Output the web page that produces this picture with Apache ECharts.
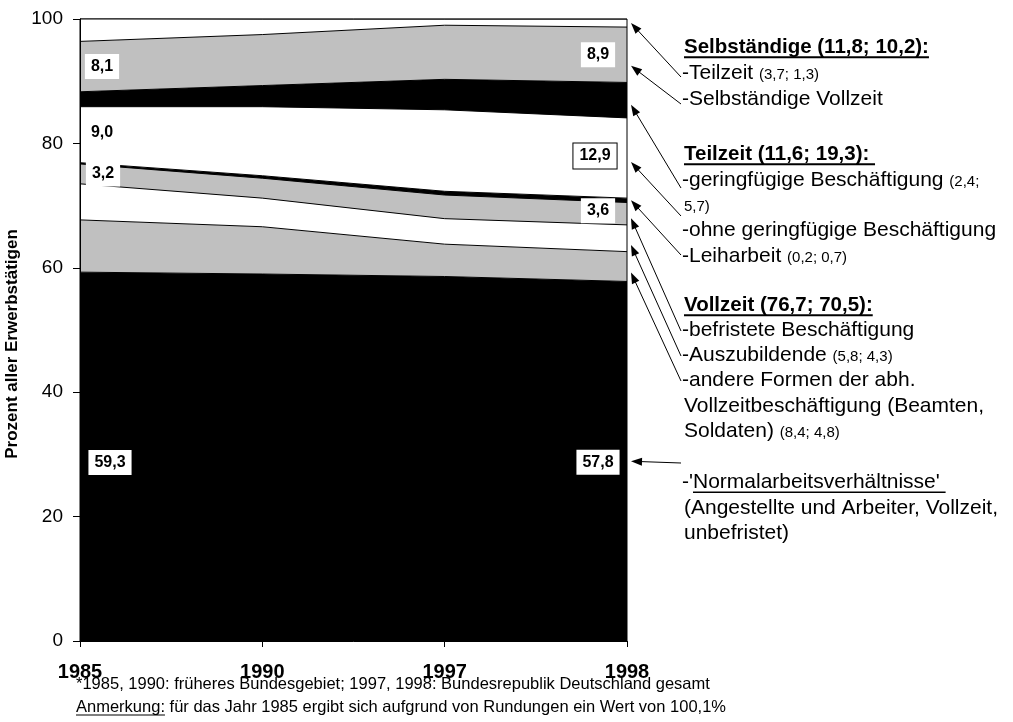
<!DOCTYPE html>
<html>
<head>
<meta charset="utf-8">
<script src="https://cdn.jsdelivr.net/npm/echarts@6.0.0/dist/echarts.min.js"></script>
<style>
  html, body { margin: 0; padding: 0; background: #fff; }
  #chart { width: 1013px; height: 722px; }
</style>
</head>
<body>
<div id="chart"></div>
<script>
// Anteile an allen Erwerbstätigen in Prozent (von unten nach oben gestapelt)
var years = ['1985', '1990', '1997', '1998'];
var normal = [59.3, 59.0, 58.6, 57.8];
var andereVollzeit = [8.4, 7.6, 5.2, 4.8];
var azubi = [5.8, 4.6, 4.1, 4.3];
var befristet = [3.2, 3.2, 3.8, 3.6];
var leiharbeit = [0.2, 0.4, 0.6, 0.7];
var ohneGering = [9.0, 11.1, 13.1, 12.9];
var gering = [2.4, 3.4, 4.9, 5.7];
var selbstVoll = [8.1, 8.2, 8.7, 8.9];
var selbstTeil = [3.7, 2.5, 1.0, 1.3];
var yTicks = [0, 20, 40, 60, 80, 100];

var fam = '"Liberation Sans", Arial, Helvetica, sans-serif';
var BLACK = '#000000', GRAY = '#c0c0c0', WHITE = '#ffffff';

var layers = [
  { name: 'Normalarbeitsverhältnisse', data: normal, color: BLACK },
  { name: 'andere Formen', data: andereVollzeit, color: GRAY },
  { name: 'Auszubildende', data: azubi, color: WHITE },
  { name: 'befristete Beschäftigung', data: befristet, color: GRAY },
  { name: 'Leiharbeit', data: leiharbeit, color: BLACK },
  { name: 'ohne geringfügige Beschäftigung', data: ohneGering, color: WHITE },
  { name: 'geringfügige Beschäftigung', data: gering, color: BLACK },
  { name: 'Selbständige Vollzeit', data: selbstVoll, color: GRAY },
  { name: 'Selbständige Teilzeit', data: selbstTeil, color: WHITE }
];

var dom = document.getElementById('chart');
var myChart = echarts.init(dom, null, { renderer: 'canvas' });

var option = {
  animation: false,
  backgroundColor: '#fff',
  grid: {
    left: 80, right: 386, top: 19, bottom: 81,
    outerBoundsMode: 'none',
    containLabel: false,
    show: true, borderColor: '#000', borderWidth: 1,
    backgroundColor: 'transparent', z: 10
  },
  xAxis: {
    type: 'category',
    data: years,
    boundaryGap: false,
    z: 10,
    axisLine: { lineStyle: { color: '#000', width: 1 } },
    axisTick: { show: true, length: 6, lineStyle: { color: '#000' } },
    axisLabel: {
      color: '#000', fontFamily: fam, fontSize: 20, fontWeight: 'bold', margin: 21
    },
    splitLine: { show: false }
  },
  yAxis: {
    type: 'value',
    min: yTicks[0],
    max: yTicks[yTicks.length - 1],
    interval: 20,
    z: 10,
    name: 'Prozent aller Erwerbstätigen',
    nameLocation: 'middle',
    nameGap: 54,
    nameTextStyle: {
      color: '#000', fontFamily: fam, fontSize: 17, fontWeight: 'bold',
      padding: [0, 28, 0, 0]
    },
    axisLine: { show: true, lineStyle: { color: '#000', width: 1 } },
    axisTick: { show: true, length: 7, lineStyle: { color: '#000' } },
    axisLabel: { color: '#000', fontFamily: fam, fontSize: 19, margin: 17 },
    splitLine: { show: false }
  },
  series: layers.map(function (l) {
    return {
      type: 'line',
      name: l.name,
      stack: 'gesamt',
      data: l.data,
      symbol: 'none',
      smooth: false,
      clip: true,
      lineStyle: { color: '#000', width: 1 },
      itemStyle: { color: l.color },
      areaStyle: { color: l.color, opacity: 1 }
    };
  })
};

myChart.setOption(option);

// ---- Beschriftungen ----
function px(i, v) {
  return myChart.convertToPixel({ gridIndex: 0 }, [years[i], v]);
}
function band(k, i) {
  var lo = 0;
  for (var j = 0; j < k; j++) lo += layers[j].data[i];
  return [lo, lo + layers[k].data[i]];
}
function fmt(v) { return v.toFixed(1).replace('.', ','); }

var graphics = [];

// Wertelabels in den Flächen
var valueLabels = [
  { layer: 7, i: 0, dx: 22, dy: 0, frame: false },
  { layer: 5, i: 0, dx: 22, dy: -2, frame: false },
  { layer: 3, i: 0, dx: 23, dy: 0, frame: false },
  { layer: 0, i: 0, dx: 30, dy: 6, frame: false },
  { layer: 7, i: 3, dx: -29, dy: 0, frame: false },
  { layer: 5, i: 3, dx: -32, dy: -2, frame: true },
  { layer: 3, i: 3, dx: -29, dy: -3, frame: false },
  { layer: 0, i: 3, dx: -29, dy: 1, frame: false }
];
valueLabels.forEach(function (lb) {
  var b = band(lb.layer, lb.i);
  var p = px(lb.i, (b[0] + b[1]) / 2);
  graphics.push({
    type: 'text', z: 100,
    style: {
      text: fmt(layers[lb.layer].data[lb.i]),
      x: p[0] + lb.dx, y: p[1] + lb.dy,
      align: 'center', verticalAlign: 'middle',
      font: 'bold 16px ' + fam, fill: '#000',
      backgroundColor: '#fff',
      padding: [5, 6, 4, 6],
      borderColor: lb.frame ? '#000' : null,
      borderWidth: lb.frame ? 1 : 0
    }
  });
});

// Legende rechts (Text)
var fonts = {
  head: 'bold 20.5px ' + fam,
  norm: '21px ' + fam,
  normU: '21px ' + fam,
  small: '15px ' + fam
};
var sizes = { head: 20.5, norm: 21, normU: 21, small: 15 };
var noteLines = [
  [['Selbständige (11,8; 10,2):', 'head']],
  [['-Teilzeit ', 'norm'], ['(3,7; 1,3)', 'small']],
  [['-Selbständige Vollzeit', 'norm']],
  [['Teilzeit (11,6; 19,3): ', 'head']],
  [['-geringfügige Beschäftigung ', 'norm'], ['(2,4;', 'small']],
  [['5,7)', 'small']],
  [['-ohne geringfügige Beschäftigung', 'norm']],
  [['-Leiharbeit ', 'norm'], ['(0,2; 0,7)', 'small']],
  [['Vollzeit (76,7; 70,5):', 'head']],
  [['-befristete Beschäftigung', 'norm']],
  [['-Auszubildende ', 'norm'], ['(5,8; 4,3)', 'small']],
  [['-andere Formen der abh.', 'norm']],
  [['Vollzeitbeschäftigung (Beamten,', 'norm']],
  [['Soldaten) ', 'norm'], ['(8,4; 4,8)', 'small']],
  [["-'", 'norm'], ["Normalarbeitsverhältnisse' ", 'normU']],
  [['(Angestellte und Arbeiter, Vollzeit,', 'norm']],
  [['unbefristet)', 'norm']]
];
// Zeilenmitten (px) der Legendenzeilen
var lineCenters = [47, 73, 99, 154, 180, 205, 230, 256, 305, 330, 355, 380, 406, 431, 482, 508, 533];
var dashX = 682, textX = 684;

var ctx = document.createElement('canvas').getContext('2d');
function measure(str, f) { ctx.font = f; return ctx.measureText(str).width; }

noteLines.forEach(function (parts, k) {
  var x = parts[0][0].charAt(0) === '-' ? dashX : textX;
  var baseline = lineCenters[k] + 0.35 * 21;
  parts.forEach(function (part) {
    var kind = part[1];
    var w = measure(part[0], fonts[kind]);
    graphics.push({
      type: 'text', z: 100,
      style: {
        text: part[0], x: x, y: baseline - 0.35 * sizes[kind],
        align: 'left', verticalAlign: 'middle',
        font: fonts[kind], fill: '#000'
      }
    });
    if (kind === 'head' || kind === 'normU') {
      graphics.push({
        type: 'line', z: 100,
        shape: { x1: x, y1: baseline + 3, x2: x + w, y2: baseline + 3 },
        style: { stroke: '#000', lineWidth: kind === 'head' ? 2 : 1.5 }
      });
    }
    x += w;
  });
});

// Pfeile von der Legende zu den Flächen (1998)
var arrows = [
  { layer: 8, frac: 0.5, line: 1, ty: 4 },
  { layer: 7, frac: 0.3, line: 2, ty: 5 },
  { layer: 6, frac: 0.37, line: 4, ty: 8 },
  { layer: 5, frac: 0.45, line: 5, ty: 11 },
  { layer: 4, frac: 0.5, line: 7, ty: -1 },
  { layer: 3, frac: 0.3, line: 9, ty: 1 },
  { layer: 2, frac: 0.25, line: 10, ty: 1 },
  { layer: 1, frac: 0.3, line: 11, ty: 1 },
  { layer: 0, frac: 0.5, line: 14, ty: -19 }
];
arrows.forEach(function (a) {
  var b = band(a.layer, 3);
  var head = px(3, b[0] + a.frac * (b[1] - b[0]));
  head = [head[0] + 4, head[1]];
  var tail = [dashX - 1, lineCenters[a.line] + a.ty];
  var dx = head[0] - tail[0], dy = head[1] - tail[1];
  var len = Math.sqrt(dx * dx + dy * dy);
  var ux = dx / len, uy = dy / len;
  var nx = -uy, ny = ux;
  var hl = 11, hw = 4;
  var bx = head[0] - ux * hl, by = head[1] - uy * hl;
  graphics.push({
    type: 'line', z: 100,
    shape: { x1: tail[0], y1: tail[1], x2: bx + ux * 2, y2: by + uy * 2 },
    style: { stroke: '#000', lineWidth: 1 }
  });
  graphics.push({
    type: 'polygon', z: 100,
    shape: { points: [head, [bx + nx * hw, by + ny * hw], [bx - nx * hw, by - ny * hw]] },
    style: { fill: '#000' }
  });
});

// Fußnoten
var footFont = '16.5px ' + fam;
graphics.push({
  type: 'text', z: 100,
  style: {
    text: '*1985, 1990: früheres Bundesgebiet; 1997, 1998: Bundesrepublik Deutschland gesamt',
    x: 76, y: 684, align: 'left', verticalAlign: 'middle', font: footFont, fill: '#000'
  }
});
var anm = 'Anmerkung:';
var anmW = measure(anm, footFont);
graphics.push({
  type: 'text', z: 100,
  style: { text: anm, x: 76, y: 707, align: 'left', verticalAlign: 'middle', font: footFont, fill: '#000' }
});
graphics.push({
  type: 'line', z: 100,
  shape: { x1: 76, y1: 715, x2: 76 + anmW, y2: 715 },
  style: { stroke: '#000', lineWidth: 1.2 }
});
graphics.push({
  type: 'text', z: 100,
  style: {
    text: ' für das Jahr 1985 ergibt sich aufgrund von Rundungen ein Wert von 100,1%',
    x: 76 + anmW, y: 707, align: 'left', verticalAlign: 'middle', font: footFont, fill: '#000'
  }
});

myChart.setOption({ graphic: graphics });

window.addEventListener('resize', myChart.resize);
</script>
</body>
</html>
